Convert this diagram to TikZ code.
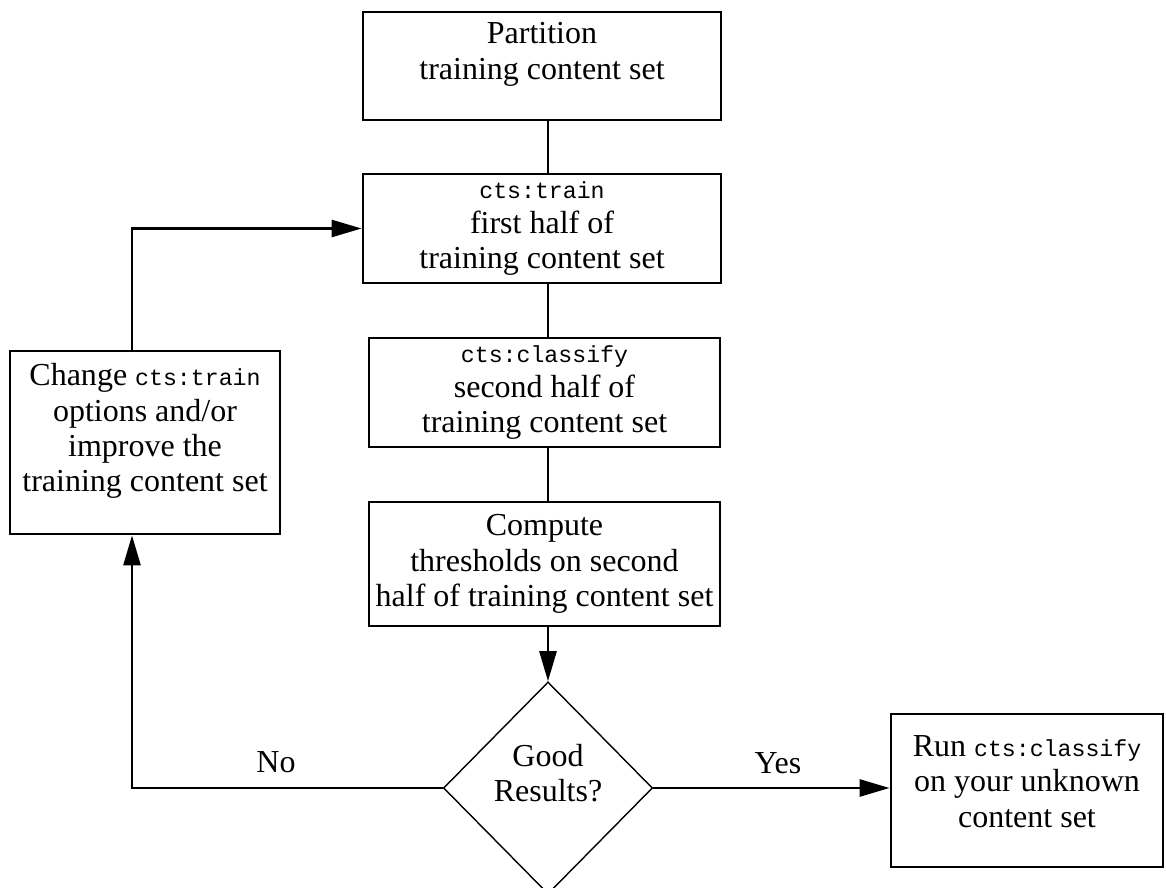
\documentclass[tikz,border=0pt]{standalone}
\usepackage{fontspec}
\setmainfont{Liberation Serif}
\setmonofont{Liberation Mono}
\usetikzlibrary{shapes.geometric, arrows.meta, positioning, calc}
\newcommand{\cmd}[1]{{\fontsize{6.6}{10}\selectfont\ttfamily #1}}
\newcommand{\padbot}[1]{\rule[-#1]{0pt}{#1}}
\tikzset{
	stepbox/.style ={rectangle, draw=black, line width=0.75pt, align=center, inner sep=1pt},
	decision/.style={diamond, draw=black, line width=0.4pt, align=center, inner sep=0pt, minimum width=2.09cm, minimum height=2.12cm},
	flow/.style    ={line width=0.75pt},
	flowarrow/.style={line width=0.75pt, -{Triangle[length=0.3cm, width=0.17cm]}},
}
\begin{document}
\begin{tikzpicture}[x=0.01cm, y=-0.01cm, font=\fontsize{9.1}{10}\selectfont]
	\useasboundingbox (0,0) rectangle (1166,888);
	% main column
	\node[stepbox, minimum width=3.58cm, minimum height=1.08cm] (part) at (542,66) {Partition\\training content set\padbot{0.3cm}};
	\node[stepbox, minimum width=3.58cm, minimum height=1.09cm] (train) at (542,228.5) {\cmd{cts:train}\\first half of\\training content set};
	\node[stepbox, minimum width=3.51cm, minimum height=1.09cm] (cls) at (544.5,392.5) {\cmd{cts:classify}\\second half of\\training content set};
	\node[stepbox, minimum width=3.51cm, minimum height=1.24cm] (comp) at (544.5,564) {Compute\\thresholds on second\\half of training content set};
	\node[decision] (dec) at (548,788) {Good\\Results?\padbot{0.3cm}};
	% side boxes
	\node[stepbox, minimum width=2.70cm, minimum height=1.83cm] (chg) at (145,442.5) {Change \cmd{cts:train}\\options and/or\\improve the\\training content set\padbot{0.3cm}};
	\node[stepbox, minimum width=2.72cm, minimum height=1.53cm] (run) at (1027,790.5) {Run \cmd{cts:classify}\\on your unknown\\content set\padbot{0.18cm}};
	\coordinate (loop) at (132,230);
	% connectors
	\draw[flow] (part.south -| dec.north) -- (train.north -| dec.north);
	\draw[flow] (train.south -| dec.north) -- (cls.north -| dec.north);
	\draw[flow] (cls.south -| dec.north) -- (comp.north -| dec.north);
	\draw[flowarrow] (comp.south -| dec.north) -- (dec.north);
	\draw[flowarrow] (dec.west) -| (chg.south -| loop);
	\draw[flowarrow] (chg.north -| loop) |- (train.west);
	\draw[flowarrow] (dec.east) -- (dec.east -| run.west);
	\node (no) at (276,762) {No};
	\node (yes) at (778,763) {Yes};
\end{tikzpicture}
\end{document}
